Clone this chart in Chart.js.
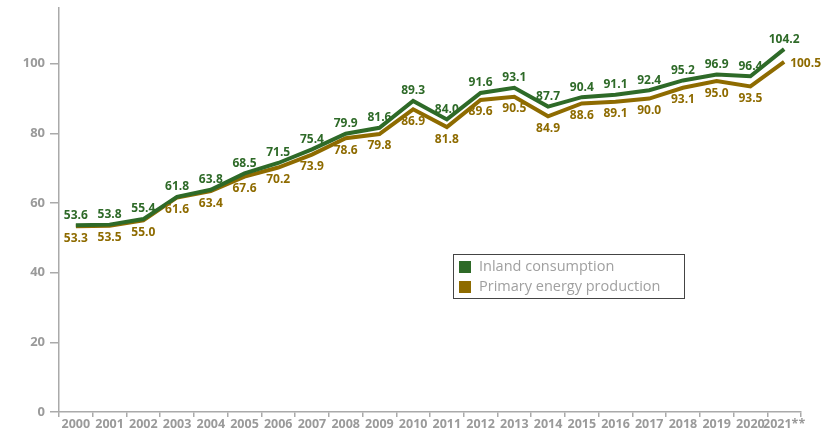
<!DOCTYPE html>
<html>
<head>
<meta charset="utf-8">
<script src="https://cdn.jsdelivr.net/npm/chart.js@4"></script>
<style>
  html, body { margin: 0; padding: 0; background: #fff; }
  #wrap { width: 826px; height: 429px; }
</style>
</head>
<body>
<div id="wrap"><canvas id="energy-chart" width="826" height="429"></canvas></div>
<script>
const years = ['2000', '2001', '2002', '2003', '2004', '2005', '2006', '2007', '2008', '2009', '2010',
    '2011', '2012', '2013', '2014', '2015', '2016', '2017', '2018', '2019', '2020', '2021**'];
const inlandConsumption = [53.6, 53.8, 55.4, 61.8, 63.8, 68.5, 71.5, 75.4, 79.9, 81.6, 89.3,
    84.0, 91.6, 93.1, 87.7, 90.4, 91.1, 92.4, 95.2, 96.9, 96.4, 104.2];
const primaryProduction = [53.3, 53.5, 55.0, 61.6, 63.4, 67.6, 70.2, 73.9, 78.6, 79.8, 86.9,
    81.8, 89.6, 90.5, 84.9, 88.6, 89.1, 90.0, 93.1, 95.0, 93.5, 100.5];
const yTicks = [0, 20, 40, 60, 80, 100];

const green = '#2e6a28';
const gold = '#8e6b00';
const grey = '#9a9a9a';

//value labels, green above the line, gold below
const valueLabels = {
    id: 'valueLabels',
    afterDatasetsDraw(chart) {
        const ctx = chart.ctx;
        ctx.save();
        ctx.font = 'bold 12px "Open Sans"';
        ctx.textAlign = 'center';
        chart.data.datasets.forEach((ds, i) => {
            const meta = chart.getDatasetMeta(i);
            ctx.fillStyle = ds.borderColor;
            meta.data.forEach((pt, j) => {
                const txt = ds.data[j].toFixed(1);
                //last gold value sits to the right of the end point
                if (j === ds.data.length - 1 && i === 1) {
                    ctx.textAlign = 'left';
                    ctx.textBaseline = 'middle';
                    ctx.fillText(txt, pt.x + 6, pt.y + 2);
                    ctx.textAlign = 'center';
                    return;
                }
                if (i === 0) {
                    ctx.textBaseline = 'bottom';
                    ctx.fillText(txt, pt.x, pt.y - 4);
                } else {
                    ctx.textBaseline = 'top';
                    ctx.fillText(txt, pt.x, pt.y + 6);
                }
            });
        });
        ctx.restore();
    }
};

//boxed legend inside the plot
const boxLegend = {
    id: 'boxLegend',
    afterDraw(chart) {
        const ctx = chart.ctx;
        const x = 453, y = 254, w = 231, h = 44;
        ctx.save();
        ctx.strokeStyle = '#444';
        ctx.lineWidth = 1;
        ctx.strokeRect(x + 0.5, y + 0.5, w, h);
        ctx.font = '14.5px "Open Sans"';
        ctx.textBaseline = 'middle';
        chart.data.datasets.forEach((ds, i) => {
            const rowY = y + 13 + i * 20;
            ctx.fillStyle = ds.borderColor;
            ctx.fillRect(x + 6, rowY - 6, 12, 12);
            ctx.fillStyle = '#a0a0a0';
            ctx.fillText(ds.label, x + 26, rowY);
        });
        ctx.restore();
    }
};

new Chart(document.querySelector('#energy-chart'), {
    type: 'line',
    data: {
        labels: years,
        datasets: [{
            label: 'Inland consumption',
            data: inlandConsumption,
            borderColor: green,
            backgroundColor: green,
            borderWidth: 4,
            pointRadius: 0,
            tension: 0
        }, {
            label: 'Primary energy production',
            data: primaryProduction,
            borderColor: gold,
            backgroundColor: gold,
            borderWidth: 4,
            pointRadius: 0,
            tension: 0
        }]
    },
    options: {
        responsive: false,
        animation: false,
        layout: { padding: { top: 8, right: 25, left: 0, bottom: 0 } },
        plugins: {
            legend: { display: false },
            tooltip: { enabled: false }
        },
        scales: {
            x: {
                offset: true,
                grid: { offset: true, drawOnChartArea: false, tickLength: 5, color: '#aaa', lineWidth: 1.5 },
                border: { color: '#aaa', width: 1.5 },
                ticks: { color: grey, font: { family: '"Open Sans"', size: 12.5, weight: 'bold' }, padding: 0, maxRotation: 0, autoSkip: false },
                afterFit: (scale) => { scale.height = 17; }
            },
            y: {
                min: 0,
                max: 116,
                afterBuildTicks: (scale) => { scale.ticks = yTicks.map(v => ({ value: v })); },
                grid: { drawOnChartArea: false, tickLength: 9, color: '#aaa', lineWidth: 1.5 },
                border: { color: '#aaa', width: 1.5 },
                ticks: { color: grey, font: { family: '"Open Sans"', size: 13, weight: 'bold' }, padding: 5 },
                afterFit: (scale) => {
                    scale.width = 59;
                    scale.paddingTop = 0;
                    scale.paddingBottom = 0;
                }
            }
        }
    },
    plugins: [valueLabels, boxLegend]
});
</script>
</body>
</html>
